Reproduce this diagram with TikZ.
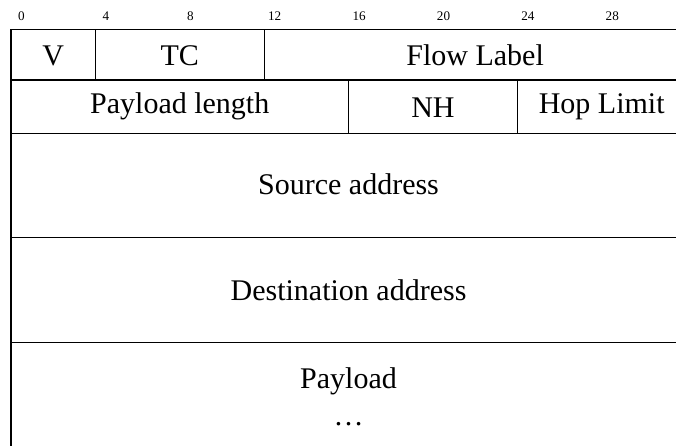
\documentclass[tikz,border=0pt]{standalone}
\usepackage{fontspec}
\setmainfont{Liberation Serif}
\usepackage{tikz}

\begin{document}
\begin{tikzpicture}[x=7.385pt, y=-18.2pt, line width=0.45pt,
    field/.style={font=\fontsize{10.5}{12.6}\selectfont, inner sep=0pt, anchor=base},
    bitnum/.style={font=\fontsize{4.6}{5.5}\selectfont, inner sep=0pt}]
    % Visible area
    \useasboundingbox (-0.52,-0.567) rectangle (31.52,8.01);
    \clip (-0.52,-0.567) rectangle (31.52,8.01);

    % Bit numbers
    \foreach \b in {0,4,...,28}
        \node[bitnum] (bit\b) at (\b+0.5,-0.25) {\b};

    % Header words
    \draw (0,0) rectangle (32,0.97);
    \draw (0,0.97) rectangle (32,2);
    \draw (4,0) -- (4,0.97);
    \draw (12,0) -- (12,0.97);
    \draw (16,0.97) -- (16,2);
    \draw (24,0.97) -- (24,2);

    % Addresses and payload
    \draw (0,2) rectangle (32,4);
    \draw (0,4) rectangle (32,6.02);
    \draw (0,6.02) rectangle (32,8.6);

    % Field names
    \node[field] (ver) at (2,0.683) {V};
    \node[field] (tc) at (8,0.683) {TC};
    \node[field] (flow) at (22,0.683) {Flow Label};
    \node[field] (len) at (8,1.61) {Payload length};
    \node[field] (nh) at (20,1.70) {NH};
    \node[field] (hop) at (28,1.61) {Hop Limit};
    \node[field] (src) at (16,3.17) {Source address};
    \node[field] (dst) at (16,5.215) {Destination address};
    \node[field] (data) at (16,6.90) {Payload};
    \node[field] (more) at (16,7.62) {\dots};
\end{tikzpicture}
\end{document}
